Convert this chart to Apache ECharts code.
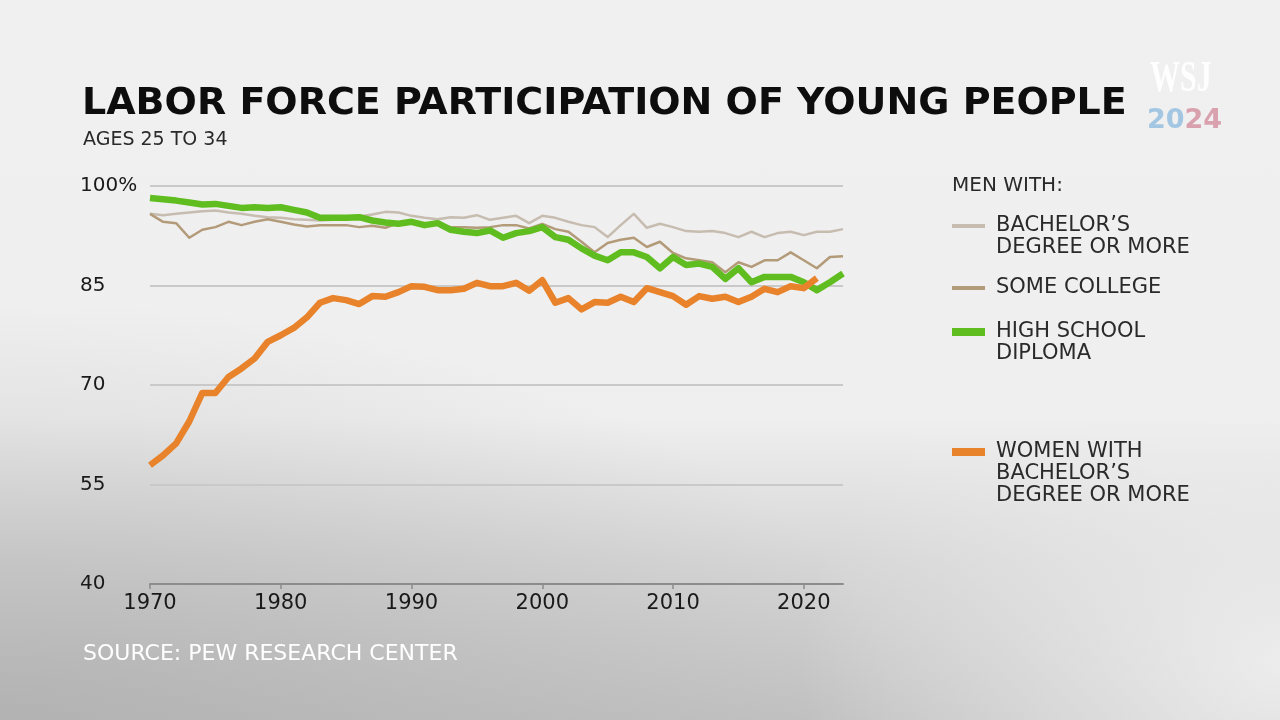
<!DOCTYPE html>
<html>
<head>
<meta charset="utf-8">
<script src="https://cdn.jsdelivr.net/npm/echarts@6/dist/echarts.min.js"></script>
<style>
html,body{margin:0;padding:0;width:1280px;height:720px;overflow:hidden;}
#c{width:1280px;height:720px;
  background:
    radial-gradient(ellipse 480px 380px at 100% 92%, rgba(238,238,238,0.95) 0%, rgba(238,238,238,0) 100%),
    radial-gradient(ellipse 900px 420px at 0% 100%, rgba(165,165,165,0.55) 0%, rgba(165,165,165,0) 100%),
    linear-gradient(to bottom, #f0f0f0 0%, #efefef 58%, #d6d6d6 78%, #c2c2c2 100%);}
</style>
</head>
<body>
<div id="c"></div>
<script>
const years = [1970,1971,1972,1973,1974,1975,1976,1977,1978,1979,1980,1981,1982,1983,1984,1985,1986,1987,1988,1989,1990,1991,1992,1993,1994,1995,1996,1997,1998,1999,2000,2001,2002,2003,2004,2005,2006,2007,2008,2009,2010,2011,2012,2013,2014,2015,2016,2017,2018,2019,2020,2021,2022,2023];
const tickYears = [1970,1980,1990,2000,2010,2020];
const yTicks = [40,55,70,85,100];

const menBachelor = [95.8,95.6,95.8,96.0,96.2,96.3,96.0,95.8,95.5,95.3,95.2,95.0,94.9,94.8,94.9,95.0,95.4,95.7,96.1,96.0,95.5,95.2,95.0,95.3,95.2,95.6,94.9,95.2,95.5,94.4,95.5,95.2,94.6,94.1,93.8,92.3,94.1,95.8,93.7,94.3,93.8,93.2,93.1,93.2,92.9,92.3,93.1,92.3,92.9,93.1,92.6,93.1,93.1,93.5];
const menSomeCollege = [95.8,94.6,94.4,92.2,93.4,93.8,94.6,94.1,94.6,95.0,94.6,94.2,93.9,94.1,94.1,94.1,93.8,94.0,93.7,94.4,94.6,94.3,94.4,93.8,93.8,93.7,93.8,94.1,94.1,93.6,94.3,93.5,93.1,91.6,90.0,91.4,91.9,92.2,90.8,91.6,89.9,89.1,88.8,88.5,87.0,88.5,87.8,88.8,88.8,90.0,88.8,87.6,89.3,89.4];
const menHighSchool = [98.2,98.0,97.8,97.5,97.2,97.3,97.0,96.7,96.8,96.7,96.8,96.4,96.0,95.2,95.2,95.2,95.3,94.8,94.5,94.3,94.6,94.1,94.4,93.4,93.1,92.9,93.3,92.2,92.9,93.2,93.8,92.3,91.9,90.6,89.5,88.8,90.0,90.0,89.3,87.6,89.3,88.1,88.3,87.8,86.0,87.6,85.5,86.3,86.3,86.3,85.5,84.3,85.5,86.8];
const womenBachelor = [57.9,59.4,61.2,64.5,68.8,68.8,71.2,72.5,74.0,76.5,77.5,78.6,80.2,82.4,83.1,82.8,82.2,83.4,83.3,84.0,84.9,84.8,84.3,84.3,84.5,85.4,84.9,84.9,85.4,84.2,85.8,82.4,83.1,81.4,82.5,82.4,83.3,82.5,84.6,84.0,83.4,82.1,83.4,83.0,83.3,82.5,83.3,84.5,84.0,84.9,84.6,86.1];

const seriesNames = ["BACHELOR’S\nDEGREE OR MORE","SOME COLLEGE","HIGH SCHOOL\nDIPLOMA","WOMEN WITH\nBACHELOR’S\nDEGREE OR MORE"];
const seriesColors = ['#c7bcb0','#b39b7a','#5fbd1f','#e8832b'];
const seriesWidths = [2.5,2.5,6.5,6.5];
const seriesValues = [menBachelor, menSomeCollege, menHighSchool, womenBachelor];

const TITLE = 'LABOR FORCE PARTICIPATION OF YOUNG PEOPLE';
const SUBTITLE = 'AGES 25 TO 34';
const SOURCE = 'SOURCE: PEW RESEARCH CENTER';
const LEGEND_HEAD = 'MEN WITH:';

const FONT = '"DejaVu Sans", sans-serif';

function pairs(vals){ return vals.map((v,i)=>[years[i], v]); }

const chart = echarts.init(document.getElementById('c'), null, {renderer:'canvas'});

const legendY = [226, 288, 332, 452];
const graphics = [];
graphics.push({type:'text', left:952, top:176, style:{text:LEGEND_HEAD, font:'20px '+FONT, fill:'#2a2a2a'}});
seriesNames.forEach((n,i)=>{
  const h = seriesWidths[i] > 4 ? 8 : 4;
  graphics.push({type:'rect', shape:{x:952, y:legendY[i]-h/2, width:33, height:h}, style:{fill:seriesColors[i]}});
  graphics.push({type:'text', x:996, y:legendY[i]-11, style:{text:n, font:'21px '+FONT, fill:'#2a2a2a', lineHeight:22, textVerticalAlign:'top'}});
});
// WSJ 2024 mark
graphics.push({type:'text', x:1150, y:58, scaleY:1.45, style:{text:'WSJ', font:'bold 30px "Liberation Serif", serif', fill:'rgba(255,255,255,0.92)'}});
graphics.push({type:'text', x:1147, y:107, style:{text:'{a|20}{b|24}', rich:{a:{fill:'#a3c6e3', font:'bold 27px '+FONT}, b:{fill:'#d9a1ae', font:'bold 27px '+FONT}}}});

chart.setOption({
  backgroundColor: 'transparent',
  animation:false,
  title:[
    {text:TITLE, left:77, top:80, textStyle:{fontFamily:FONT, fontWeight:'bold', fontSize:38, color:'#0d0d0d'}},
    {text:SUBTITLE, left:78, top:126, textStyle:{fontFamily:FONT, fontWeight:'normal', fontSize:19, color:'#2a2a2a'}},
    {text:SOURCE, left:78, top:638, textStyle:{fontFamily:FONT, fontWeight:'normal', fontSize:22, color:'#ffffff'}}
  ],
  grid:{left:150, right:437, top:186, bottom:136, containLabel:false},
  xAxis:{type:'value', min:1970, max:2023,
    axisLine:{show:true, lineStyle:{color:'#8c8c8c', width:2}},
    axisTick:{show:true, inside:false, length:5, customValues:tickYears, lineStyle:{color:'#8c8c8c', width:1.5}},
    axisLabel:{customValues:tickYears, fontFamily:FONT, fontSize:21, color:'#1a1a1a', margin:9, formatter:v=>String(v)},
    splitLine:{show:false}},
  yAxis:{type:'value', min:40, max:100, interval:15,
    axisLine:{show:false}, axisTick:{show:false},
    axisLabel:{customValues:yTicks, align:'left', margin:70, fontFamily:FONT, fontSize:20, color:'#1a1a1a', formatter:v=> v===100 ? '100%' : String(v)},
    splitLine:{show:true, lineStyle:{color:'#c9c9c9', width:2}}},
  series: seriesNames.map((n,i)=>({
    name:n, type:'line', data:pairs(seriesValues[i]), showSymbol:false, symbol:'none',
    lineStyle:{color:seriesColors[i], width:seriesWidths[i], join:'round', cap:'butt'},
    itemStyle:{color:seriesColors[i]}, z:2+i
  })),
  graphic: graphics
});
</script>
</body>
</html>
